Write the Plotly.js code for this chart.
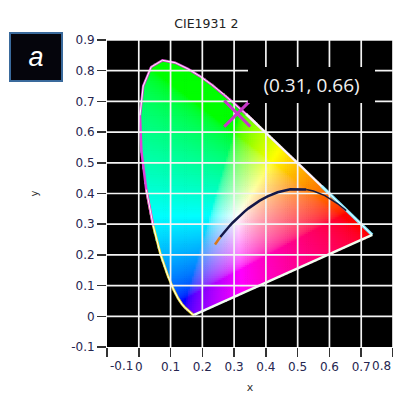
<!DOCTYPE html>
<html>
<head>
<meta charset="utf-8">
<script src="https://cdn.plot.ly/plotly-3.0.1.min.js"></script>
<style>html,body{margin:0;padding:0;background:#fff;}#chart{width:393px;height:394px;}</style>
</head>
<body>
<div id="chart"></div>
<script>
// CIE 1931 2° spectral locus (chromaticity x, y), 380–700 nm
const locusWl = [380,385,390,395,400,405,410,415,420,425,430,435,440,445,450,455,460,465,470,475,480,485,490,495,500,505,510,515,520,525,530,535,540,545,550,555,560,565,570,575,580,585,590,595,600,605,610,615,620,625,630,635,640,645,650,655,660,665,670,680,690,700];
const locusX = [0.1741,0.1740,0.1738,0.1736,0.1733,0.1730,0.1726,0.1721,0.1714,0.1703,0.1689,0.1669,0.1644,0.1611,0.1566,0.1510,0.1440,0.1355,0.1241,0.1096,0.0913,0.0687,0.0454,0.0235,0.0082,0.0039,0.0139,0.0389,0.0743,0.1142,0.1547,0.1929,0.2296,0.2658,0.3016,0.3373,0.3731,0.4087,0.4441,0.4788,0.5125,0.5448,0.5752,0.6029,0.6270,0.6482,0.6658,0.6801,0.6915,0.7006,0.7079,0.7140,0.7190,0.7230,0.7260,0.7283,0.7300,0.7311,0.7320,0.7334,0.7344,0.7347];
const locusY = [0.0050,0.0050,0.0049,0.0049,0.0048,0.0048,0.0048,0.0048,0.0051,0.0058,0.0069,0.0086,0.0109,0.0138,0.0177,0.0227,0.0297,0.0399,0.0578,0.0868,0.1327,0.2007,0.2950,0.4127,0.5384,0.6548,0.7502,0.8120,0.8338,0.8262,0.8059,0.7816,0.7543,0.7243,0.6923,0.6589,0.6245,0.5896,0.5547,0.5202,0.4866,0.4544,0.4242,0.3965,0.3725,0.3514,0.3340,0.3197,0.3083,0.2993,0.2920,0.2859,0.2809,0.2770,0.2740,0.2717,0.2700,0.2689,0.2680,0.2666,0.2656,0.2653];

// Planckian locus (infinite K -> 1000 K)
const planckX = [0.2399,0.2468,0.2501,0.2565,0.2637,0.2720,0.2807,0.2869,0.2952,0.3064,0.3135,0.3221,0.3325,0.3451,0.3608,0.3805,0.4053,0.4369,0.4770,0.5267,0.5496,0.5857,0.6251,0.6528];
const planckY = [0.2342,0.2447,0.2494,0.2582,0.2677,0.2780,0.2884,0.2956,0.3048,0.3166,0.3237,0.3318,0.3411,0.3516,0.3636,0.3768,0.3907,0.4041,0.4137,0.4133,0.4081,0.3931,0.3674,0.3444];

// marked point
const pointX = [0.31];
const pointY = [0.66];
const pointLabel = '(0.31, 0.66)';

// axes
const xTickVals = [-0.1,0,0.1,0.2,0.3,0.4,0.5,0.6,0.7,0.8];
const xTickText = ['','0','0.1','0.2','0.3','0.4','0.5','0.6','0.7',''];
const xEdgeLabels = ['-0.1','0.8'];
const yTickVals = [-0.1,0,0.1,0.2,0.3,0.4,0.5,0.6,0.7,0.8,0.9];
const yTickText = ['-0.1','0','0.1','0.2','0.3','0.4','0.5','0.6','0.7','0.8','0.9'];
const titleText = 'CIE1931 2';
const panelLabel = 'a';

// ---------- colour field of the gamut (tiny square markers) ----------
function inside(px, py) {
  let c = false;
  const n = locusX.length;
  for (let i = 0, j = n - 1; i < n; j = i++) {
    const xi = locusX[i], yi = locusY[i], xj = locusX[j], yj = locusY[j];
    if (((yi > py) !== (yj > py)) && (px < (xj - xi) * (py - yi) / (yj - yi) + xi)) c = !c;
  }
  return c;
}
function gam(v) { return v <= 0.0031308 ? 12.92 * v : 1.055 * Math.pow(v, 1 / 2.4) - 0.055; }
function xyToRgb(x, y) {
  const X = x / y, Y = 1, Z = (1 - x - y) / y;
  let r = 3.2406 * X - 1.5372 * Y - 0.4986 * Z;
  let g = -0.9689 * X + 1.8758 * Y + 0.0415 * Z;
  let b = 0.0557 * X - 0.2040 * Y + 1.0570 * Z;
  r = Math.max(r, 0); g = Math.max(g, 0); b = Math.max(b, 0);
  const m = Math.max(r, g, b) || 1;
  return 'rgb(' + Math.round(255 * gam(r / m)) + ',' + Math.round(255 * gam(g / m)) + ',' + Math.round(255 * gam(b / m)) + ')';
}
const step = 0.006;
const fx = [], fy = [], fc = [];
for (let yy = step / 2; yy < 0.85; yy += step) {
  for (let xx = step / 2; xx < 0.75; xx += step) {
    if (inside(xx, yy)) { fx.push(xx); fy.push(yy); fc.push(xyToRgb(xx, yy)); }
  }
}

// grid lines from the tick arrays
const gvx = [], gvy = [], ghx = [], ghy = [];
xTickVals.filter(v => v >= 0).forEach(v => { gvx.push(v, v, null); gvy.push(-0.1, 0.9, null); });
yTickVals.filter(v => v >= 0).forEach(v => { ghx.push(-0.1, 0.8, null); ghy.push(v, v, null); });

function seg(a, b) {
  const i0 = locusWl.indexOf(a), i1 = locusWl.indexOf(b);
  return { x: locusX.slice(i0, i1 + 1), y: locusY.slice(i0, i1 + 1) };
}
function line(d, color, width) {
  return { type: 'scatter', mode: 'lines', x: d.x, y: d.y, line: { color: color, width: width },
           hoverinfo: 'skip', showlegend: false };
}
const last = locusX.length - 1;
const purple = { x: [locusX[last], locusX[0]], y: [locusY[last], locusY[0]] };

const data = [
  { type: 'scatter', mode: 'markers', x: fx, y: fy, hoverinfo: 'skip', showlegend: false,
    marker: { symbol: 'square', size: 2.6, color: fc, line: { width: 0 } } },
  line(seg(380, 495), '#f2e23a', 2.5),
  line(seg(490, 560), '#e040d8', 2.5),
  line(seg(555, 595), '#f4e8f4', 2.5),
  line(seg(590, 700), '#7fe8ff', 3),
  line(purple, '#f0fff0', 2.5),
  line(seg(380, 495), '#ffffff', 1),
  line(seg(505, 600), '#ffffff', 1),
  line(seg(600, 700), '#ffffff', 1),
  line({ x: gvx, y: gvy }, '#f4f4f4', 1.7),
  line({ x: ghx, y: ghy }, '#f4f4f4', 1.7),
  line({ x: planckX.slice(0, 4), y: planckY.slice(0, 4) }, '#d8781a', 2.5),
  line({ x: planckX.slice(3, 20), y: planckY.slice(3, 20) }, '#141848', 2.5),
  line({ x: planckX.slice(19), y: planckY.slice(19) }, '#1a1a3a', 1.5),
  { type: 'scatter', mode: 'markers', x: pointX, y: pointY, hoverinfo: 'skip', showlegend: false,
    marker: { symbol: 'x-thin', size: 26, line: { color: '#c838c8', width: 3 } } }
];

const tickFont = { family: 'DejaVu Sans, Verdana, sans-serif', size: 12, color: '#262650' };
const layout = {
  width: 393, height: 394,
  margin: { l: 107, r: 0, t: 40, b: 47, pad: 0 },
  paper_bgcolor: '#ffffff', plot_bgcolor: '#000000',
  showlegend: false,
  title: { text: titleText, x: 0.525, xanchor: 'center', y: 0.94, yanchor: 'middle',
           font: { family: 'DejaVu Sans, Verdana, sans-serif', size: 12.5, color: '#222222' } },
  xaxis: {
    range: [-0.1, 0.8], autorange: false, automargin: false,
    tickmode: 'array', tickvals: xTickVals, ticktext: xTickText,
    ticks: 'outside', ticklen: 9, tickwidth: 1.5, tickcolor: '#333333',
    showgrid: false, zeroline: false, showline: false,
    tickfont: tickFont,
    title: { text: 'x', font: { family: 'DejaVu Sans, sans-serif', size: 11, color: '#333' }, standoff: 12 }
  },
  yaxis: {
    range: [-0.1, 0.9], autorange: false, automargin: false,
    tickmode: 'array', tickvals: yTickVals, ticktext: yTickText,
    ticks: 'outside', ticklen: 9, tickwidth: 1.5, tickcolor: '#333333',
    showgrid: false, zeroline: false, showline: false,
    tickfont: tickFont,
    title: { text: 'y', font: { family: 'DejaVu Sans, sans-serif', size: 10, color: '#333' }, standoff: 30 }
  },
  annotations: [
    { xref: 'x', yref: 'y', x: 0.542, y: 0.753, xanchor: 'center', yanchor: 'middle', text: pointLabel, showarrow: false,
      font: { family: 'Open Sans, sans-serif', size: 19, color: '#f2f2f2' },
      bgcolor: '#000000', width: 127, height: 36, borderpad: 0, borderwidth: 0 },
    { xref: 'paper', yref: 'paper', x: -0.248, y: 0.945, xanchor: 'center', yanchor: 'middle',
      text: '<i>' + panelLabel + '</i>', showarrow: false,
      font: { family: 'Liberation Sans, Arial, sans-serif', size: 27, color: '#ffffff' },
      bgcolor: '#05050c', bordercolor: '#3a6a9c', borderwidth: 2, width: 50, height: 46, borderpad: 0 },
    { xref: 'paper', yref: 'paper', x: 0.049, y: 0, xanchor: 'center', yanchor: 'top', yshift: -10,
      text: xEdgeLabels[0], showarrow: false, font: tickFont },
    { xref: 'paper', yref: 'paper', x: 1, xanchor: 'right', y: 0, yanchor: 'top', yshift: -10,
      text: xEdgeLabels[1], showarrow: false, font: tickFont }
  ]
};
Plotly.newPlot('chart', data, layout, { displayModeBar: false, staticPlot: true });
</script>
</body>
</html>
